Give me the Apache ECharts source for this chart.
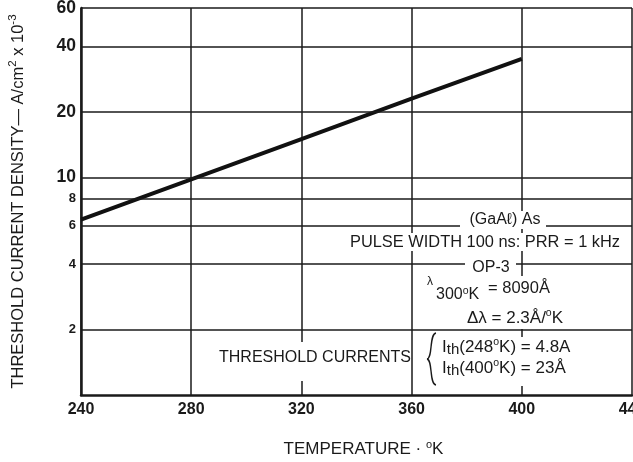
<!DOCTYPE html>
<html>
<head>
<meta charset="utf-8">
<script src="https://cdn.jsdelivr.net/npm/echarts@6/dist/echarts.min.js"></script>
<style>
html,body{margin:0;padding:0;background:#fff;}
#chart{width:633px;height:462px;}
</style>
</head>
<body>
<div id="chart"></div>
<script>
// Threshold current density of the (GaAl)As OP-3 laser versus temperature
const temperatures = [240, 280, 320, 360, 400];          // °K
const densities = [6.4, 9.8, 15, 23, 35];                 // A/cm² × 10⁻³
// Horizontal rules of the log grid, each labelled with its value
const densityGridValues = [2, 4, 6, 8, 10, 20, 40, 60];
const temperatureTicks = [240, 280, 320, 360, 400, 440];

const FONT = '"Liberation Sans", Arial, Helvetica, sans-serif';
const INK = '#1a1a1a';

const chart = echarts.init(document.getElementById('chart'), null, {renderer: 'canvas'});

const annotationRich = {
  sub: {fontFamily: FONT, fontSize: 15, fill: INK, verticalAlign: 'bottom'},
  sup: {fontFamily: FONT, fontSize: 10.5, fill: INK, verticalAlign: 'top'}
};

// white panel that interrupts the grid behind a block of annotation text
function mask(x, y, w, h) {
  return {type: 'rect', z: 99, silent: true, shape: {x: x, y: y, width: w, height: h},
          style: {fill: '#fff'}};
}

function note(x, y, text, opts) {
  opts = opts || {};
  return {
    type: 'text', x: x, y: y, z: 100, silent: true,
    style: {
      text: text,
      fontFamily: FONT, fontSize: opts.fontSize || 16, fontWeight: 'normal',
      fill: INK, align: opts.align || 'center', verticalAlign: 'middle',
      lineHeight: opts.lineHeight,
      rich: annotationRich
    }
  };
}

chart.setOption({
  animation: false,
  backgroundColor: '#fff',
  grid: {left: 81, right: 1, top: 8, bottom: 67, containLabel: false, outerBoundsMode: 'none'},
  xAxis: {
    type: 'value',
    min: temperatureTicks[0],
    max: temperatureTicks[temperatureTicks.length - 1],
    interval: 40,
    axisLine: {show: true, onZero: false, lineStyle: {color: INK, width: 2.5}},
    axisTick: {show: false},
    axisLabel: {color: INK, fontFamily: FONT, fontWeight: 'bold', fontSize: 16, margin: 7,
                showMinLabel: true, showMaxLabel: true, hideOverlap: false},
    splitLine: {show: true, lineStyle: {color: INK, width: 1.5}},
    name: 'TEMPERATURE · {o|o}K',
    nameLocation: 'middle',
    nameGap: 44,
    nameTextStyle: {
      fontFamily: FONT, fontSize: 17, color: INK, padding: [0, 0, 0, 14],
      rich: {o: {fontFamily: FONT, fontSize: 11, color: INK, verticalAlign: 'top', lineHeight: 20}}
    }
  },
  yAxis: {
    type: 'log',
    logBase: 10,
    min: 1,
    max: 60,
    axisLine: {show: true, onZero: false, lineStyle: {color: INK, width: 2.5}},
    axisTick: {show: false},
    axisLabel: {show: false},
    splitLine: {show: false},
    name: 'THRESHOLD CURRENT DENSITY— A/cm{s|2} x 10{s|-3}',
    nameLocation: 'middle',
    nameRotate: 90,
    nameGap: 52,
    nameTextStyle: {
      fontFamily: FONT, fontSize: 16.5, color: INK,
      rich: {s: {fontFamily: FONT, fontSize: 11.5, color: INK, verticalAlign: 'top', lineHeight: 22}}
    }
  },
  series: [{
    type: 'line',
    data: temperatures.map((t, i) => [t, densities[i]]),
    showSymbol: false,
    symbol: 'none',
    lineStyle: {color: '#111', width: 4},
    z: 3,
    markLine: {
      silent: true,
      animation: false,
      symbol: ['none', 'none'],
      lineStyle: {type: 'solid', color: INK, width: 1.5},
      label: {
        show: true,
        position: 'start',
        distance: 5,
        formatter: p => (p.value >= 10 ? '{b|' : '{s|') + p.value + '}',
        rich: {
          b: {fontFamily: FONT, fontWeight: 'bold', fontSize: 17.5, color: INK},
          s: {fontFamily: FONT, fontWeight: 'bold', fontSize: 13, color: INK}
        }
      },
      data: densityGridValues.map(v => ({yAxis: v}))
    }
  }],
  graphic: [
    mask(460, 211, 86, 18),
    mask(349, 233, 272, 18),
    mask(465, 259, 51, 17),
    mask(424, 276, 132, 32),
    mask(462, 307, 106, 22),
    mask(215, 342, 195, 39),
    mask(438, 337, 146, 49),
    note(505, 220, '(GaAℓ) As'),
    note(485, 242, 'PULSE WIDTH 100 ns: PRR = 1 kHz', {fontSize: 16.4}),
    note(491, 268, 'OP-3'),
    note(430, 282, 'λ', {fontSize: 12}),
    note(436, 295, '300{sup|o}K', {align: 'left', fontSize: 16, lineHeight: 19}),
    note(488, 288, '= 8090Å', {align: 'left', fontSize: 16.5}),
    note(515, 318, 'Δλ = 2.3Å/{sup|o}K', {fontSize: 17, lineHeight: 20}),
    note(315, 358, 'THRESHOLD CURRENTS'),
    note(442, 347, 'I{sub|th}(248{sup|o}K) = 4.8A', {align: 'left', fontSize: 17, lineHeight: 20}),
    note(442, 368, 'I{sub|th}(400{sup|o}K) = 23Å', {align: 'left', fontSize: 17, lineHeight: 20}),
    // brace grouping the two threshold current values
    {type: 'bezierCurve', z: 101, silent: true,
     shape: {x1: 436, y1: 333, cpx1: 429, cpy1: 334, cpx2: 433, cpy2: 358, x2: 427, y2: 359},
     style: {fill: null, stroke: INK, lineWidth: 1.4}},
    {type: 'bezierCurve', z: 101, silent: true,
     shape: {x1: 427, y1: 359, cpx1: 433, cpy1: 360, cpx2: 429, cpy2: 384, x2: 436, y2: 385},
     style: {fill: null, stroke: INK, lineWidth: 1.4}}
  ]
});
</script>
</body>
</html>
